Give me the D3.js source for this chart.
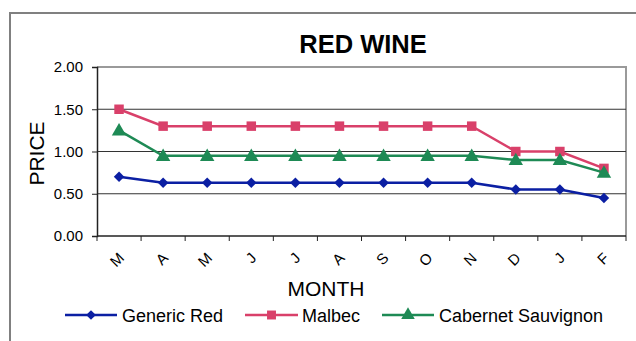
<!DOCTYPE html>
<html>
<head>
<meta charset="utf-8">
<script src="https://cdn.jsdelivr.net/npm/d3@7"></script>
<style>
  html, body { margin: 0; padding: 0; background: #fff; }
  svg { display: block; font-family: "Liberation Sans", Arial, sans-serif; }
</style>
</head>
<body>
<svg id="chart" width="636" height="341"></svg>
<script>
// Monthly prices per wine
const months = ["M", "A", "M", "J", "J", "A", "S", "O", "N", "D", "J", "F"];
const genericRed = [0.70, 0.63, 0.63, 0.63, 0.63, 0.63, 0.63, 0.63, 0.63, 0.55, 0.55, 0.45];
const malbec = [1.50, 1.30, 1.30, 1.30, 1.30, 1.30, 1.30, 1.30, 1.30, 1.00, 1.00, 0.80];
const cabernet = [1.25, 0.95, 0.95, 0.95, 0.95, 0.95, 0.95, 0.95, 0.95, 0.90, 0.90, 0.75];
const yTicks = [0, 0.5, 1.0, 1.5, 2.0];

const seriesList = [
  { name: "Generic Red", values: genericRed, color: "#0B1FA3", symbol: d3.symbolDiamond2 },
  { name: "Malbec", values: malbec, color: "#D9406A", symbol: d3.symbolSquare },
  { name: "Cabernet Sauvignon", values: cabernet, color: "#1E8A55", symbol: d3.symbolTriangle }
];

const svg = d3.select("#chart");
const plot = { left: 97, right: 626, top: 67, bottom: 236 };

// outer chart frame
svg.append("path")
  .attr("d", "M10,345 V13 H640")
  .attr("fill", "none").attr("stroke", "#808080").attr("stroke-width", 2);

const x = d3.scaleBand().domain(d3.range(months.length)).range([plot.left, plot.right]);
const y = d3.scaleLinear().domain([0, 2]).range([plot.bottom, plot.top]);

// plot area border (top / right)
svg.append("path")
  .attr("d", `M${plot.left},${plot.top} H${plot.right} V${plot.bottom}`)
  .attr("fill", "none").attr("stroke", "#9a9a9a").attr("stroke-width", 2);

// horizontal gridlines
svg.append("g").selectAll("line")
  .data(yTicks.filter(t => t > 0 && t < 2))
  .join("line")
  .attr("x1", plot.left).attr("x2", plot.right)
  .attr("y1", d => y(d)).attr("y2", d => y(d))
  .attr("stroke", "#333").attr("stroke-width", 1.2);

// y axis
const yAxis = svg.append("g")
  .attr("transform", `translate(${plot.left},0)`)
  .call(d3.axisLeft(y).tickValues(yTicks).tickFormat(d3.format(".2f")).tickSize(5).tickPadding(9));
yAxis.select(".domain").attr("stroke", "#222").attr("stroke-width", 1.5);
yAxis.selectAll(".tick line").attr("stroke", "#222");
yAxis.selectAll("text").attr("font-size", 15).attr("fill", "#000")
  .attr("font-family", "Liberation Sans, Arial, sans-serif");

// x axis: ticks at category boundaries
const xg = svg.append("g").attr("transform", `translate(0,${plot.bottom})`);
xg.append("line").attr("x1", plot.left).attr("x2", plot.right)
  .attr("stroke", "#222").attr("stroke-width", 1.5);
xg.selectAll("line.tk")
  .data(d3.range(months.length + 1))
  .join("line").attr("class", "tk")
  .attr("x1", i => i < months.length ? x(i) : x(months.length - 1) + x.bandwidth())
  .attr("x2", i => i < months.length ? x(i) : x(months.length - 1) + x.bandwidth())
  .attr("y1", 0).attr("y2", 5)
  .attr("stroke", "#222");
xg.selectAll("text")
  .data(months)
  .join("text")
  .attr("transform", (d, i) => `translate(${x(i) + x.bandwidth() / 2 + 6},${23}) rotate(-45)`)
  .attr("text-anchor", "end")
  .attr("font-size", 15)
  .text(d => d);

// axis titles
svg.append("text")
  .attr("x", 326).attr("y", 296)
  .attr("text-anchor", "middle").attr("font-size", 21)
  .text("MONTH");
svg.append("text")
  .attr("transform", `translate(44,${(plot.top + plot.bottom) / 2 + 2}) rotate(-90)`)
  .attr("text-anchor", "middle").attr("font-size", 21)
  .text("PRICE");

// title
svg.append("text")
  .attr("x", 363).attr("y", 53)
  .attr("text-anchor", "middle").attr("font-size", 25.5).attr("font-weight", "bold")
  .text("RED WINE");

// series lines and markers
const line = d3.line().x((d, i) => x(i) + x.bandwidth() / 2).y(d => y(d));
seriesList.forEach(s => {
  const g = svg.append("g");
  g.append("path")
    .attr("d", line(s.values))
    .attr("fill", "none").attr("stroke", s.color).attr("stroke-width", 2.5);
  const sym = d3.symbol().type(s.symbol).size(s.symbol === d3.symbolDiamond2 ? 70 : 90);
  g.selectAll("path.m")
    .data(s.values)
    .join("path").attr("class", "m")
    .attr("transform", (d, i) => `translate(${x(i) + x.bandwidth() / 2},${y(d) + (s.symbol === d3.symbolTriangle ? 1 : 0)})`)
    .attr("d", sym())
    .attr("fill", s.color);
});

// legend
const legendItems = [
  { s: seriesList[0], x0: 65, x1: 117, tx: 122 },
  { s: seriesList[1], x0: 245, x1: 298, tx: 302 },
  { s: seriesList[2], x0: 382, x1: 434, tx: 439 }
];
const ly = 315;
legendItems.forEach(it => {
  const g = svg.append("g");
  g.append("line").attr("x1", it.x0).attr("x2", it.x1).attr("y1", ly).attr("y2", ly)
    .attr("stroke", it.s.color).attr("stroke-width", 2.5);
  const sym = d3.symbol().type(it.s.symbol).size(it.s.symbol === d3.symbolDiamond2 ? 60 : 80);
  g.append("path").attr("d", sym())
    .attr("transform", `translate(${(it.x0 + it.x1) / 2},${ly})`)
    .attr("fill", it.s.color);
  g.append("text").attr("x", it.tx).attr("y", ly + 6.5)
    .attr("font-size", 18).text(it.s.name);
});
</script>
</body>
</html>
